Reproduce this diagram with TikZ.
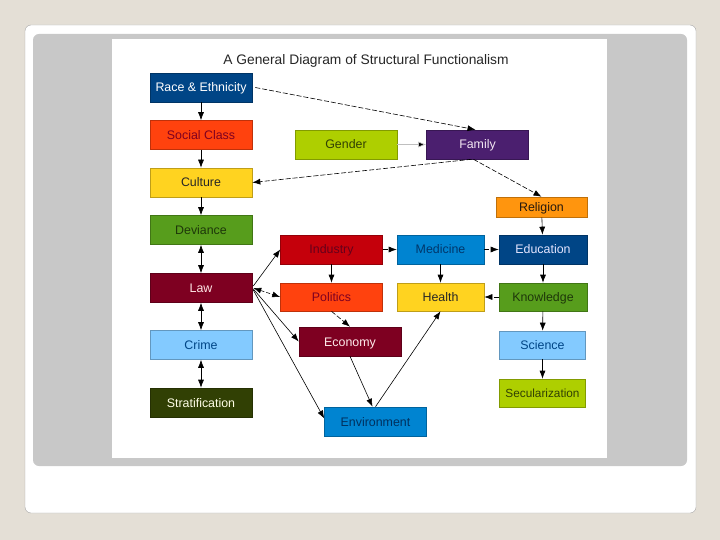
\documentclass[tikz,border=0pt]{standalone}
\usepackage{fontspec}
\setmainfont{Liberation Sans}
\usetikzlibrary{calc,arrows.meta}
\definecolor{bgpage}{RGB}{228,223,214}
\definecolor{panel}{RGB}{200,200,200}
\definecolor{cDarkBlue}{RGB}{0,69,134}
\definecolor{cOrangeRed}{RGB}{255,66,14}
\definecolor{cYellow}{RGB}{255,211,32}
\definecolor{cGreen}{RGB}{87,157,28}
\definecolor{cMaroon}{RGB}{126,0,33}
\definecolor{cLightBlue}{RGB}{131,202,255}
\definecolor{cOlive}{RGB}{49,64,4}
\definecolor{cLime}{RGB}{174,207,0}
\definecolor{cPurple}{RGB}{75,31,111}
\definecolor{cOrange}{RGB}{255,149,14}
\definecolor{cRed}{RGB}{197,0,11}
\definecolor{cBlue}{RGB}{0,132,209}
\tikzset{
  box/.style={draw=#1!75!black, line width=0.6pt, fill=#1, minimum width=102pt, minimum height=29pt, inner sep=0pt, text height=10pt, text depth=1pt, font=\fontsize{12.4}{14}\selectfont},
  conn/.style={draw=black, line width=0.6pt, -{Latex[length=8pt,width=6pt]}},
  biconn/.style={draw=black, line width=0.6pt, {Latex[length=8pt,width=6pt]}-{Latex[length=8pt,width=6pt]}},
  dconn/.style={conn, dash pattern=on 5pt off 2pt},
}
\begin{document}
\begin{tikzpicture}[x=1pt,y=-1pt]
\useasboundingbox (0,0) rectangle (720,540);
\fill[bgpage] (0,0) rectangle (720,540);
\draw[gray!70, fill=white, rounded corners=6pt] (25,25) rectangle (696,513);
\fill[panel, rounded corners=6pt] (33,34) rectangle (687,466);
\fill[white] (112,39) rectangle (607,458);
\node[font=\fontsize{13.8}{15}\selectfont, text=black!85] (title) at (366,61) {A General Diagram of Structural Functionalism};

\node[box=cDarkBlue, text=white] (race) at (201,87.5) {Race \& Ethnicity};
\node[box=cOrangeRed, text=cMaroon] (social) at (201,135) {Social Class};
\node[box=cYellow, text=black!85] (culture) at (201,182.5) {Culture};
\node[box=cGreen, text=cGreen!35!black] (deviance) at (201,230) {Deviance};
\node[box=cMaroon, text=red!10] (law) at (201,288) {Law};
\node[box=cLightBlue, text=cDarkBlue] (crime) at (201,345) {Crime};
\node[box=cOlive, text=white!90!yellow] (strat) at (201,402.5) {Stratification};

\node[box=cLime, text=cOlive] (gender) at (346,144.5) {Gender};
\node[box=cPurple, text=white!90!violet] (family) at (477.5,144.5) {Family};
\node[box=cOrange, text=black!80!brown, minimum width=91pt, minimum height=20pt] (religion) at (541.5,207) {Religion};

\node[box=cRed, text=cMaroon!80!black] (industry) at (331.5,249.5) {Industry};
\node[box=cBlue, text=cDarkBlue!80!black, minimum width=87pt] (medicine) at (440.5,249.5) {Medicine};
\node[box=cDarkBlue, text=white!90!blue, minimum width=88pt] (education) at (543,249.5) {Education};
\node[box=cOrangeRed, text=cMaroon, minimum height=28pt] (politics) at (331.5,297) {Politics};
\node[box=cYellow, text=black!85, minimum width=87pt, minimum height=28pt] (health) at (440.5,297) {Health};
\node[box=cGreen, text=cGreen!35!black, minimum width=88pt, minimum height=28pt] (knowledge) at (543,297) {Knowledge};
\node[box=cMaroon, text=white!92!red] (economy) at (350,341.5) {Economy};
\node[box=cLightBlue, text=cDarkBlue, minimum width=86pt, minimum height=28pt] (science) at (542.5,345) {Science};
\node[box=cLime, text=cOlive, minimum width=86pt, minimum height=28pt, font=\fontsize{11.8}{13}\selectfont] (secular) at (542.5,393) {Secularization};
\node[box=cBlue, text=cDarkBlue!70!black] (env) at (375.5,421.5) {Environment};

% left column
\draw[conn] (race) -- (social);
\draw[conn] (social) -- (culture);
\draw[conn] (culture) -- (deviance);
\draw[biconn] (deviance) -- (law);
\draw[biconn] (law) -- (crime);
\draw[biconn] (crime) -- (strat);

% top
\draw[dconn] ($(race.east)+(3,0)$) -- ($(family.north)+(-2,0)$);
\draw[line width=0.6pt, draw=gray!50, -{Latex[length=8pt,width=6pt,fill=black]}] (gender) -- (family);
\draw[dconn] ($(family.south)+(-6,0)$) -- (culture.east);
\draw[dconn] ($(family.south)+(-4,0)$) -- (religion.north);

% right column
\draw[conn] (religion) -- (education);
\draw[conn] (education) -- (knowledge);
\draw[conn] (knowledge) -- (science);
\draw[conn] (science) -- (secular);
\draw[dconn] (knowledge) -- (health);

% middle
\draw[dconn] (industry) -- (medicine);
\draw[dconn] (medicine) -- (education);
\draw[conn] (industry) -- (politics);
\draw[conn] (medicine) -- (health);
\draw[dconn] (politics.south) -- (economy.north);
\draw[conn] (economy.south) -- ($(env.north)+(-3,0)$);
\draw[conn] (env.north) -- (health.south);

% from law
\draw[conn] ($(law.east)+(1,-2)$) -- (industry.west);
\draw[biconn, dash pattern=on 4pt off 2pt] ($(law.east)+(1,0)$) -- (politics.west);
\draw[conn] ($(law.east)+(1,1)$) -- (economy.west);
\draw[conn] ($(law.east)+(1,2)$) -- ($(env.west)+(0,-3)$);
\end{tikzpicture}
\end{document}
